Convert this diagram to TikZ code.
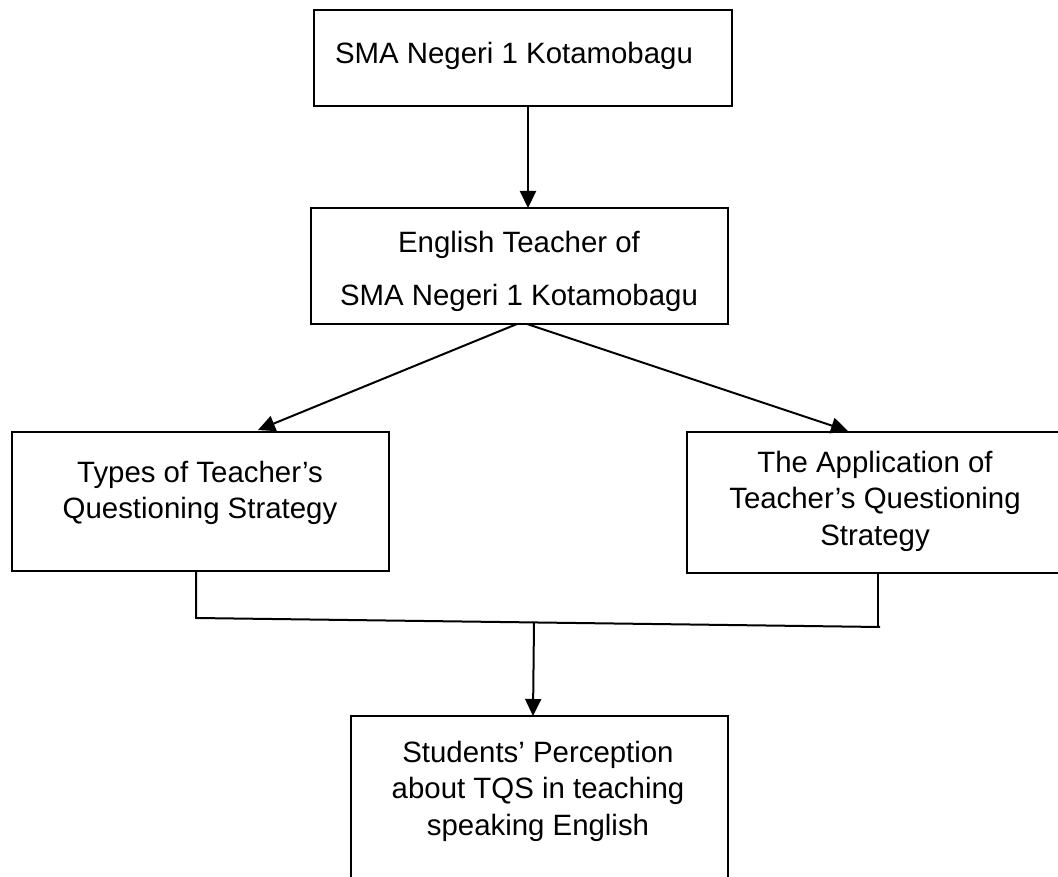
\documentclass[tikz,border=0pt]{standalone}
\usepackage{fontspec}
\setmainfont{Liberation Sans}
\usetikzlibrary{arrows.meta}
\begin{document}
\begin{tikzpicture}[x=1pt,y=-1pt,
  boxshape/.style={draw=black, line width=2pt, rectangle, inner sep=0pt},
  txt/.style={font=\fontsize{29.4}{36.3}\selectfont, align=center, inner sep=0pt},
  conn/.style={draw=black, line width=2pt},
  arr/.style={conn, -{Triangle[length=17pt,width=16pt]}}]
\useasboundingbox (0,0) rectangle (1058,877);
\begin{scope}
\clip (0,0) rectangle (1058,877);
% boxes
\node[boxshape, minimum width=418pt, minimum height=96pt] (b1) at (523,58) {};
\node[boxshape, minimum width=417pt, minimum height=116pt] (b2) at (519.5,266) {};
\node[boxshape, minimum width=377pt, minimum height=139pt] (b3) at (200.5,501.5) {};
\node[boxshape, minimum width=375pt, minimum height=141pt] (b4) at (874.5,502.5) {};
\node[boxshape, minimum width=377pt, minimum height=200pt] (b5) at (539.5,816) {};
\end{scope}
% texts
\node[txt] (t1) at (514,56) {SMA Negeri 1 Kotamobagu};
\node[txt] (t2a) at (519,245) {English Teacher of};
\node[txt] (t2b) at (519,298) {SMA Negeri 1 Kotamobagu};
\node[txt, anchor=north] (t3) at (200,461) {Types of Teacher’s\\Questioning Strategy};
\node[txt, anchor=north] (t4) at (875,451) {The Application of\\Teacher’s Questioning\\Strategy};
\node[txt, anchor=north] (t5) at (538,741) {Students’ Perception\\about TQS in teaching\\speaking English};
% connectors
\coordinate (s1) at (528,106);
\coordinate (e1) at (528,208);
\draw[arr] (s1) -- (e1);
\coordinate (s2l) at (517,324);
\coordinate (s2r) at (527,324);
\coordinate (e3) at (258,430);
\coordinate (e4) at (848,431);
\draw[arr] (s2l) -- (e3);
\draw[arr] (s2r) -- (e4);
\coordinate (l1) at (196,571);
\coordinate (l2) at (196,618);
\coordinate (r1) at (878,573);
\coordinate (r2) at (880,627);
\coordinate (m1) at (534,622);
\coordinate (m2) at (533,716);
\draw[conn, line join=miter] (l1) -- (l2) -- (r2);
\draw[conn] (r1) -- (878,627);
\draw[arr] (m1) -- (m2);
\end{tikzpicture}
\end{document}
